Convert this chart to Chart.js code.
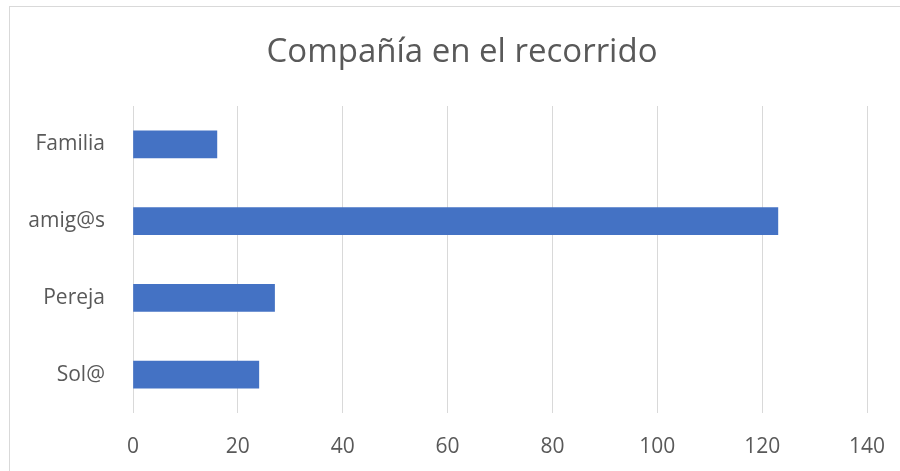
<!DOCTYPE html>
<html>
<head>
<meta charset="utf-8">
<script src="https://cdn.jsdelivr.net/npm/chart.js@4/dist/chart.umd.min.js"></script>
<style>
  html, body { margin: 0; padding: 0; background: #fff; overflow: hidden; }
  #wrap { position: relative; width: 900px; height: 471px; }
  #frame { position: absolute; left: 9px; top: 6px; width: 1000px; height: 1000px; border: 1px solid #d9d9d9; box-sizing: border-box; pointer-events: none; }
  canvas { position: absolute; left: 0; top: 0; }
</style>
</head>
<body>
<div id="wrap">
  <canvas id="chart" width="900" height="471"></canvas>
  <div id="frame"></div>
</div>
<script>
// ===== Data =====
const chartTitle = 'Compañía en el recorrido';
const categories = ['Familia', 'amig@s', 'Pereja', 'Sol@'];
const values = [16, 123, 27, 24];
const xTicks = [0, 20, 40, 60, 80, 100, 120, 140];

const TEXT = '#595959';
const FONT = 'Open Sans';

// title drawn by hand so it can sit centred on the frame, like Excel does
const titlePlugin = {
  id: 'excelTitle',
  afterDraw(chart) {
    const c = chart.ctx;
    c.save();
    c.fillStyle = TEXT;
    c.font = `33px "${FONT}"`;
    c.textAlign = 'center';
    c.textBaseline = 'middle';
    c.fillText(chartTitle, 462, 53);
    c.restore();
  }
};

const ctx = document.getElementById('chart').getContext('2d');
new Chart(ctx, {
  type: 'bar',
  data: {
    labels: categories,
    datasets: [{ data: values, backgroundColor: '#4472c4', barThickness: 27 }]
  },
  options: {
    indexAxis: 'y',
    responsive: false,
    animation: false,
    layout: { padding: { left: 0, right: 33, top: 106, bottom: 0 } },
    plugins: {
      legend: { display: false },
      tooltip: { enabled: false },
      title: { display: false }
    },
    scales: {
      x: {
        min: 0, max: 140,
        afterBuildTicks: s => { s.ticks = xTicks.map(v => ({ value: v })); },
        afterFit: s => { s.height = 58; s.paddingLeft = 0; s.paddingRight = 0; },
        grid: { color: '#d9d9d9', lineWidth: 1, drawTicks: false },
        border: { display: false },
        ticks: { color: TEXT, font: { family: FONT, size: 21 }, padding: 21 }
      },
      y: {
        afterFit: s => { s.width = 133; },
        grid: { display: false },
        border: { display: false },
        ticks: { color: TEXT, font: { family: FONT, size: 21 }, padding: 20 }
      }
    }
  },
  plugins: [titlePlugin]
});
</script>
</body>
</html>
